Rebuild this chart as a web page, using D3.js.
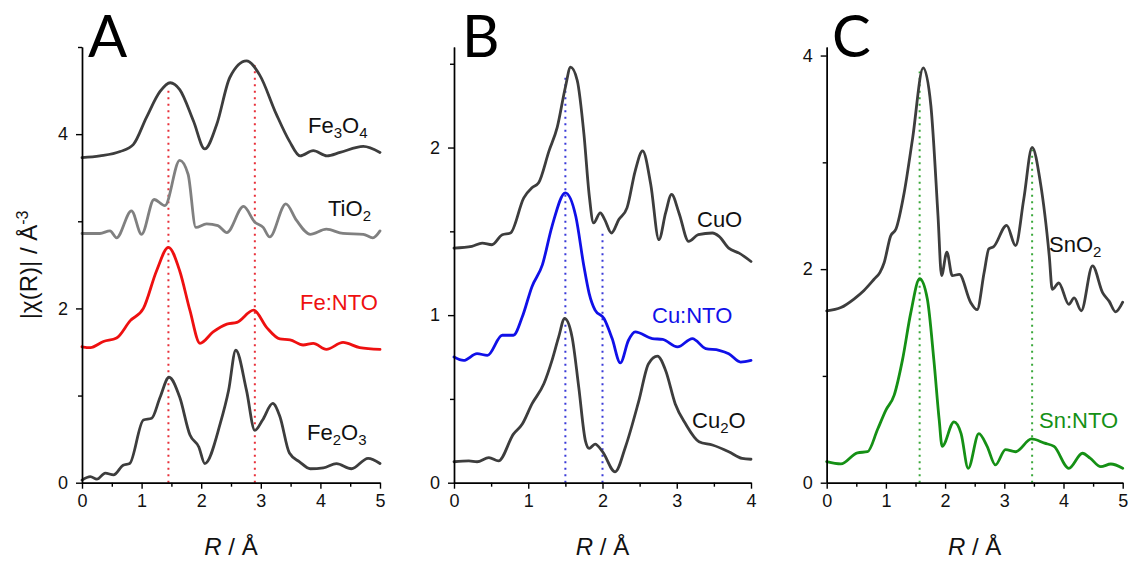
<!DOCTYPE html>
<html><head><meta charset="utf-8">
<script src="https://cdn.jsdelivr.net/npm/d3@7"></script>
<style>
html,body{margin:0;padding:0;background:#fff;}
svg{display:block;}
</style>
</head><body>
<svg id="chart" width="1129" height="565"></svg>
<script>
// ---------- Panel A data (Fe) ----------
const fe3o4R = [0, 0.3, 0.64, 0.86, 1.08, 1.31, 1.48, 1.64, 1.87, 2.06, 2.26, 2.48, 2.76, 2.98, 3.26, 3.48, 3.66, 3.88, 4.11, 4.33, 4.72, 5.0];
const fe3o4Y = [3.73, 3.75, 3.80, 3.88, 4.19, 4.49, 4.59, 4.51, 4.15, 3.83, 4.11, 4.65, 4.84, 4.68, 4.23, 3.92, 3.75, 3.81, 3.75, 3.79, 3.86, 3.79];
const tio2R = [0, 0.3, 0.47, 0.58, 0.83, 1.0, 1.21, 1.39, 1.64, 1.78, 1.91, 2.09, 2.28, 2.43, 2.71, 2.9, 3.04, 3.15, 3.42, 3.6, 3.83, 4.1, 4.38, 4.72, 4.88, 5.0];
const tio2Y = [2.86, 2.86, 2.89, 2.81, 3.12, 2.85, 3.25, 3.18, 3.70, 3.54, 2.93, 2.97, 2.95, 2.87, 3.17, 2.99, 2.93, 2.82, 3.20, 3.01, 2.85, 2.91, 2.86, 2.85, 2.81, 2.89];
const feNtoR = [0, 0.14, 0.36, 0.58, 0.81, 1.03, 1.25, 1.45, 1.64, 1.81, 1.98, 2.2, 2.43, 2.6, 2.88, 3.1, 3.32, 3.49, 3.71, 3.88, 4.1, 4.38, 4.66, 5.0];
const feNtoY = [1.56, 1.55, 1.62, 1.66, 1.86, 2.00, 2.43, 2.70, 2.43, 1.98, 1.60, 1.73, 1.82, 1.84, 1.98, 1.78, 1.65, 1.64, 1.58, 1.60, 1.53, 1.61, 1.55, 1.53];
const fe2o3R = [0, 0.14, 0.25, 0.39, 0.53, 0.69, 0.8, 1.03, 1.17, 1.31, 1.46, 1.64, 1.81, 1.96, 2.06, 2.32, 2.46, 2.58, 2.76, 2.9, 3.03, 3.2, 3.32, 3.48, 3.65, 3.83, 4.05, 4.27, 4.52, 4.8, 5.0];
const fe2o3Y = [0.03, 0.07, 0.04, 0.11, 0.09, 0.20, 0.22, 0.72, 0.74, 0.98, 1.21, 0.98, 0.55, 0.41, 0.22, 0.68, 1.06, 1.52, 1.06, 0.60, 0.72, 0.91, 0.76, 0.34, 0.24, 0.16, 0.17, 0.22, 0.16, 0.28, 0.22];
const markA = [[1.45, 4.55], [2.90, 4.79]];

// ---------- Panel B data (Cu) ----------
const cuoR = [0, 0.24, 0.38, 0.51, 0.65, 0.76, 0.94, 1.05, 1.14, 1.28, 1.39, 1.50, 1.57, 1.66, 1.75, 1.82, 1.88, 1.97, 2.03, 2.12, 2.22, 2.33, 2.44, 2.54, 2.65, 2.76, 2.85, 2.93, 3.03, 3.16, 3.29, 3.48, 3.57, 3.70, 3.84, 4.0];
const cuoY = [1.40, 1.41, 1.43, 1.42, 1.48, 1.49, 1.70, 1.76, 1.79, 1.98, 2.12, 2.36, 2.48, 2.40, 2.08, 1.72, 1.55, 1.61, 1.57, 1.49, 1.57, 1.64, 1.86, 1.98, 1.78, 1.45, 1.61, 1.72, 1.61, 1.44, 1.48, 1.49, 1.47, 1.40, 1.37, 1.32];
const cuNtoR = [0, 0.13, 0.31, 0.45, 0.65, 0.80, 0.92, 1.05, 1.19, 1.32, 1.50, 1.64, 1.75, 1.82, 1.90, 2.02, 2.13, 2.24, 2.35, 2.44, 2.67, 2.81, 3.01, 3.21, 3.39, 3.57, 3.70, 3.86, 4.0];
const cuNtoY = [0.75, 0.73, 0.77, 0.76, 0.88, 0.88, 0.99, 1.17, 1.30, 1.53, 1.73, 1.59, 1.29, 1.13, 1.03, 0.98, 0.86, 0.715, 0.85, 0.90, 0.86, 0.855, 0.81, 0.86, 0.80, 0.79, 0.77, 0.72, 0.73];
const cu2oR = [0, 0.20, 0.31, 0.47, 0.60, 0.80, 0.92, 1.05, 1.21, 1.32, 1.41, 1.49, 1.59, 1.68, 1.77, 1.82, 1.90, 2.0, 2.17, 2.31, 2.49, 2.62, 2.74, 2.85, 2.98, 3.12, 3.30, 3.48, 3.70, 3.88, 4.0];
const cu2oY = [0.125, 0.13, 0.125, 0.15, 0.13, 0.29, 0.35, 0.47, 0.59, 0.73, 0.87, 0.98, 0.87, 0.57, 0.25, 0.205, 0.23, 0.185, 0.065, 0.215, 0.49, 0.71, 0.755, 0.67, 0.47, 0.35, 0.245, 0.225, 0.185, 0.145, 0.14];
const markB = [[1.50, 2.42], [2.00, 1.50]];

// ---------- Panel C data (Sn) ----------
const sno2R = [0, 0.24, 0.46, 0.63, 0.80, 0.90, 0.97, 1.08, 1.17, 1.31, 1.45, 1.63, 1.76, 1.88, 1.94, 2.03, 2.12, 2.24, 2.43, 2.54, 2.66, 2.74, 2.82, 3.04, 3.19, 3.33, 3.47, 3.61, 3.76, 3.81, 3.92, 4.09, 4.18, 4.30, 4.49, 4.66, 4.77, 4.88, 5.0];
const sno2Y = [1.61, 1.64, 1.72, 1.80, 1.905, 1.97, 2.06, 2.31, 2.375, 2.72, 3.22, 3.885, 3.53, 2.5, 1.94, 2.16, 1.94, 1.95, 1.69, 1.62, 1.97, 2.19, 2.21, 2.41, 2.22, 2.66, 3.14, 2.81, 2.12, 1.81, 1.87, 1.67, 1.73, 1.61, 2.03, 1.78, 1.70, 1.60, 1.69];
const snNtoR = [0, 0.24, 0.52, 0.69, 0.86, 1.0, 1.14, 1.28, 1.42, 1.57, 1.70, 1.81, 1.90, 1.95, 2.15, 2.27, 2.39, 2.57, 2.71, 2.85, 3.02, 3.19, 3.46, 3.68, 3.84, 4.09, 4.32, 4.45, 4.63, 4.80, 5.0];
const snNtoY = [0.197, 0.176, 0.28, 0.29, 0.50, 0.68, 0.82, 1.15, 1.59, 1.91, 1.72, 1.15, 0.59, 0.34, 0.57, 0.46, 0.135, 0.46, 0.34, 0.166, 0.31, 0.29, 0.41, 0.37, 0.34, 0.135, 0.276, 0.23, 0.15, 0.175, 0.135];
const markC = [[1.57, 3.85], [3.47, 3.12]];

// ---------- tick labels ----------
const xTicksA = [0, 1, 2, 3, 4, 5], xMinorA = [0.5, 1.5, 2.5, 3.5, 4.5];
const yTicksA = [0, 2, 4], yMinorA = [1, 3, 5];
const xTicksB = [0, 1, 2, 3, 4], xMinorB = [0.5, 1.5, 2.5, 3.5];
const yTicksB = [0, 1, 2], yMinorB = [0.5, 1.5, 2.5];
const xTicksC = [0, 1, 2, 3, 4, 5], xMinorC = [0.5, 1.5, 2.5, 3.5, 4.5];
const yTicksC = [0, 2, 4], yMinorC = [1, 3];

const zip = (r, v) => r.map((d, i) => [d, v[i]]);

const GRAY = "#3d3d3d", LGRAY = "#808080";
const panels = [
  { letter: "A", x0: 82, x1: 380, xMax: 5, yMax: 5, letterX: 88,
    xt: xTicksA, xm: xMinorA, yt: yTicksA, ym: yMinorA, markColor: "#e8303a", marks: markA,
    series: [
      { d: zip(fe3o4R, fe3o4Y), c: GRAY, label: ["Fe", "3", "O", "4"], lx: 308, ly: 133, lc: "#111" },
      { d: zip(tio2R, tio2Y), c: LGRAY, label: ["TiO", "2"], lx: 328, ly: 216, lc: "#111" },
      { d: zip(feNtoR, feNtoY), c: "#ee1010", label: ["Fe:NTO"], lx: 300, ly: 310, lc: "#ee1010" },
      { d: zip(fe2o3R, fe2o3Y), c: GRAY, label: ["Fe", "2", "O", "3"], lx: 307, ly: 440, lc: "#111" }
    ]},
  { letter: "B", x0: 454, x1: 751, xMax: 4, yMax: 2.6, letterX: 462,
    xt: xTicksB, xm: xMinorB, yt: yTicksB, ym: yMinorB, markColor: "#3a3ad8", marks: markB,
    series: [
      { d: zip(cuoR, cuoY), c: GRAY, label: ["CuO"], lx: 697, ly: 227, lc: "#111" },
      { d: zip(cuNtoR, cuNtoY), c: "#1010e8", label: ["Cu:NTO"], lx: 652, ly: 323, lc: "#1010e8" },
      { d: zip(cu2oR, cu2oY), c: GRAY, label: ["Cu", "2", "O"], lx: 692, ly: 428, lc: "#111" }
    ]},
  { letter: "C", x0: 826.7, x1: 1122.7, xMax: 5, yMax: 4.08, letterX: 832,
    xt: xTicksC, xm: xMinorC, yt: yTicksC, ym: yMinorC, markColor: "#3aa83a", marks: markC,
    series: [
      { d: zip(sno2R, sno2Y), c: GRAY, label: ["SnO", "2"], lx: 1049, ly: 252, lc: "#111" },
      { d: zip(snNtoR, snNtoY), c: "#159015", label: ["Sn:NTO"], lx: 1039, ly: 428, lc: "#159015" }
    ]}
];

const svg = d3.select("#chart");
const TOP = 47, BOT = 482.7;
const FONT = "'Liberation Sans', Arial, sans-serif";

panels.forEach(p => {
  const x = d3.scaleLinear().domain([0, p.xMax]).range([p.x0, p.x1]);
  const yTopVal = p.yMax;
  const y = d3.scaleLinear().domain([0, yTopVal]).range([BOT, TOP]);
  const g = svg.append("g");

  // dotted marker lines
  g.selectAll("line.mark").data(p.marks).join("line")
    .attr("x1", d => x(d[0])).attr("x2", d => x(d[0]))
    .attr("y1", y(0)).attr("y2", d => y(d[1]))
    .attr("stroke", p.markColor).attr("stroke-width", 2)
    .attr("stroke-dasharray", "2,4.5");

  // curves
  const line = d3.line().x(d => x(d[0])).y(d => y(d[1])).curve(d3.curveMonotoneX);
  p.series.forEach(s => {
    g.append("path").attr("d", line(s.d)).attr("fill", "none")
      .attr("stroke", s.c).attr("stroke-width", 2.8)
      .attr("stroke-linejoin", "round").attr("stroke-linecap", "round");
    const t = g.append("text").attr("x", s.lx).attr("y", s.ly)
      .attr("font-family", FONT).attr("font-size", 22).attr("fill", s.lc);
    s.label.forEach((part, i) => {
      const sub = i % 2 === 1;
      t.append("tspan").text(part)
        .attr("font-size", sub ? 15 : 22)
        .attr("dy", sub ? 5 : (i > 0 ? -5 : 0));
    });
  });

  // axes
  const axStyle = sel => {
    sel.selectAll("path,line").attr("stroke", "#000").attr("stroke-width", 1.4);
    sel.selectAll("text").attr("font-family", FONT).attr("font-size", 18).attr("fill", "#111");
  };
  svg.append("g").attr("transform", `translate(0,${BOT})`)
    .call(d3.axisBottom(x).tickValues(p.xm).tickSize(4).tickFormat("").tickSizeOuter(0)).call(axStyle);
  svg.append("g").attr("transform", `translate(0,${BOT})`)
    .call(d3.axisBottom(x).tickValues(p.xt).tickSize(6).tickPadding(6).tickFormat(d3.format("d")).tickSizeOuter(0)).call(axStyle);
  svg.append("g").attr("transform", `translate(${p.x0},0)`)
    .call(d3.axisLeft(y).tickValues(p.ym).tickSize(4).tickFormat("").tickSizeOuter(0)).call(axStyle);
  svg.append("g").attr("transform", `translate(${p.x0},0)`)
    .call(d3.axisLeft(y).tickValues(p.yt).tickSize(6).tickPadding(8).tickFormat(d3.format("d")).tickSizeOuter(0)).call(axStyle);

  // panel letter
  svg.append("text").attr("x", p.letterX).attr("y", 57).text(p.letter)
    .attr("font-family", "Lato, 'DejaVu Sans', sans-serif").attr("font-size", 58).attr("fill", "#000");

  // x title
  const xt = svg.append("text").attr("x", (p.x0 + p.x1) / 2).attr("y", 555)
    .attr("text-anchor", "middle").attr("font-family", FONT).attr("font-size", 24).attr("fill", "#111");
  xt.append("tspan").attr("font-style", "italic").text("R");
  xt.append("tspan").text(" / Å");
});

// y title
const yt = svg.append("text").attr("transform", `translate(37,${(TOP + BOT) / 2}) rotate(-90)`)
  .attr("text-anchor", "middle").attr("font-family", FONT).attr("font-size", 24).attr("fill", "#111");
yt.append("tspan").text("|χ(R)| / Å");
yt.append("tspan").attr("font-size", 16).attr("dy", -9).text("-3");
</script>
</body></html>
